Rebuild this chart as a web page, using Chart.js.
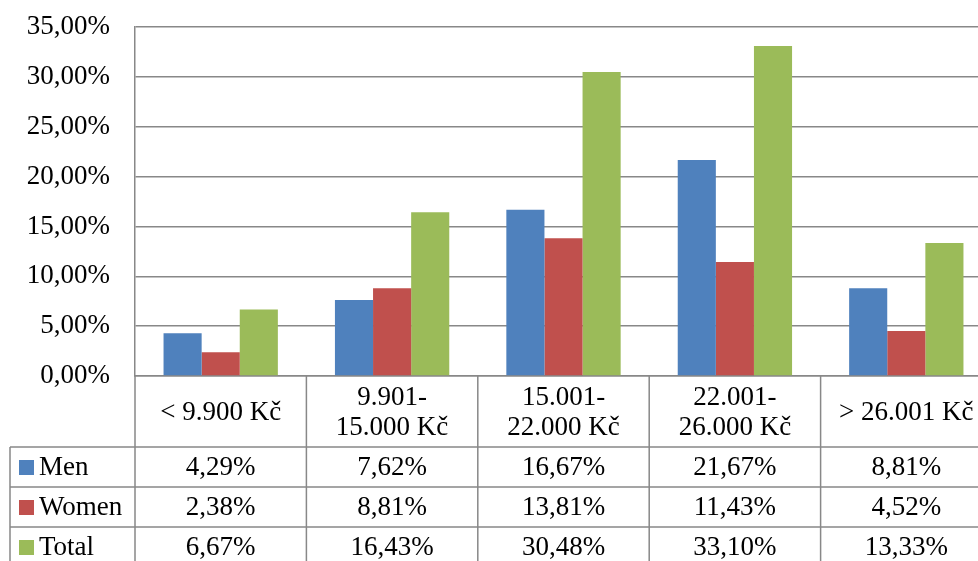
<!DOCTYPE html>
<html>
<head>
<meta charset="utf-8">
<script src="https://cdn.jsdelivr.net/npm/chart.js@4/dist/chart.umd.min.js"></script>
<style>
  html, body { margin: 0; padding: 0; background: #fff; overflow: hidden; }
  #wrap { width: 978px; height: 561px; overflow: hidden; position: relative; }
  #chart { position: absolute; left: 0; top: 0; }
</style>
</head>
<body>
<div id="wrap"><canvas id="chart" width="1000" height="561"></canvas></div>
<script>
// Data
const categories = [
    ["< 9.900 Kč"],
    ["9.901-", "15.000 Kč"],
    ["15.001-", "22.000 Kč"],
    ["22.001-", "26.000 Kč"],
    ["> 26.001 Kč"]
];
const seriesNames = ["Men", "Women", "Total"];
const men = [4.29, 7.62, 16.67, 21.67, 8.81];
const women = [2.38, 8.81, 13.81, 11.43, 4.52];
const total = [6.67, 16.43, 30.48, 33.10, 13.33];
const yTicks = [0, 5, 10, 15, 20, 25, 30, 35];

// Style
const COLORS = ["#4F81BD", "#C0504D", "#9BBB59"];
const GRID = "#888888";
const FONT = "27px 'Liberation Serif', serif";
const HEADER_H = 71;
const ROW_H = 40;
const TABLE_LEFT = 10;

const fmt = v => v.toFixed(2).replace(".", ",") + "%";

// Data table drawn under the plot, aligned with the x scale
const dataTable = {
    id: "dataTable",
    afterDraw(chart) {
        const ctx = chart.ctx;
        const xs = chart.scales.x;
        const area = chart.chartArea;
        const n = categories.length;
        const w = (xs.right - xs.left) / n;
        const top = area.bottom;
        const bottom = chart.height + 20;
        const rowsTop = top + HEADER_H;
        const values = [men, women, total];

        ctx.save();
        ctx.strokeStyle = GRID;
        ctx.lineWidth = 1.5;
        ctx.beginPath();
        for (let i = 0; i <= n; i++) {
            const x = xs.left + i * w;
            ctx.moveTo(x, top);
            ctx.lineTo(x, bottom);
        }
        ctx.moveTo(TABLE_LEFT, rowsTop);
        ctx.lineTo(TABLE_LEFT, bottom);
        for (let r = 0; r < values.length; r++) {
            const y = rowsTop + r * ROW_H;
            ctx.moveTo(TABLE_LEFT, y);
            ctx.lineTo(xs.right, y);
        }
        ctx.stroke();

        ctx.fillStyle = "#000";
        ctx.font = FONT;
        ctx.textAlign = "center";
        ctx.textBaseline = "middle";

        // category header
        categories.forEach((lines, i) => {
            const cx = xs.getPixelForValue(i);
            const cy = top + HEADER_H / 2 + 1;
            const lh = 30;
            lines.forEach((t, k) => {
                ctx.fillText(t, cx, cy + (k - (lines.length - 1) / 2) * lh);
            });
        });

        // series rows
        values.forEach((vals, r) => {
            const cy = rowsTop + r * ROW_H + ROW_H / 2 + 1;
            ctx.fillStyle = COLORS[r];
            ctx.fillRect(19, cy - 8, 15, 15);
            ctx.fillStyle = "#000";
            ctx.textAlign = "left";
            ctx.fillText(seriesNames[r], 39, cy);
            ctx.textAlign = "center";
            vals.forEach((v, i) => {
                ctx.fillText(fmt(v), xs.getPixelForValue(i), cy);
            });
        });
        ctx.restore();
    }
};

Chart.defaults.font.family = "'Liberation Serif', serif";
Chart.defaults.font.size = 27;
Chart.defaults.color = "#000";

new Chart(document.getElementById("chart"), {
    type: "bar",
    data: {
        labels: categories.map(c => c.join(" ")),
        datasets: [
            { label: seriesNames[0], data: men, backgroundColor: COLORS[0] },
            { label: seriesNames[1], data: women, backgroundColor: COLORS[1] },
            { label: seriesNames[2], data: total, backgroundColor: COLORS[2] }
        ]
    },
    options: {
        responsive: false,
        animation: false,
        layout: { padding: { top: 27, right: 8, bottom: 185, left: 0 } },
        datasets: { bar: { categoryPercentage: 0.667, barPercentage: 1, borderWidth: 0 } },
        plugins: { legend: { display: false }, tooltip: { enabled: false } },
        scales: {
            x: {
                ticks: { display: false },
                grid: { drawOnChartArea: false, drawTicks: false },
                border: { color: GRID, width: 1.5 },
                afterFit: s => { s.height = 0; }
            },
            y: {
                min: 0,
                max: 35,
                afterBuildTicks: s => { s.ticks = yTicks.map(v => ({ value: v })); },
                ticks: { padding: 0, callback: v => fmt(v) },
                grid: { color: GRID, lineWidth: 1.5, drawTicks: true, tickLength: 25, tickColor: "rgba(0,0,0,0)" },
                border: { color: GRID, width: 1.5 },
                afterFit: s => { s.width = 135; }
            }
        }
    },
    plugins: [dataTable]
});
</script>
</body>
</html>
